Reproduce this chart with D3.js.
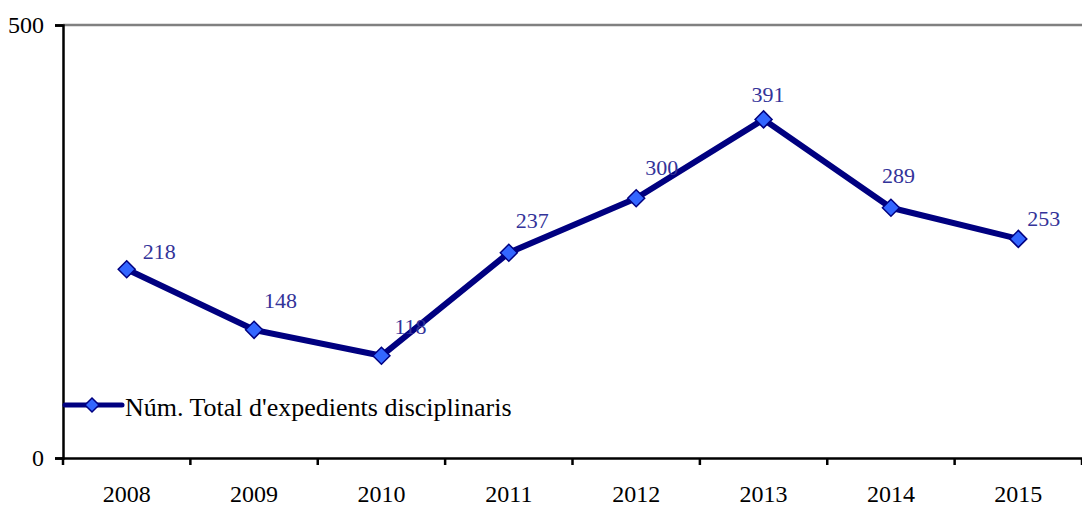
<!DOCTYPE html>
<html>
<head>
<meta charset="utf-8">
<script src="https://cdn.jsdelivr.net/npm/d3@7/dist/d3.min.js"></script>
<style>
  html, body { margin: 0; padding: 0; background: #fff; }
  svg { display: block; }
  text { font-family: "Liberation Serif", "DejaVu Serif", serif; }
</style>
</head>
<body>
<svg id="chart" width="1082" height="506"></svg>
<script>
// Disciplinary case totals per year
const years = ["2008", "2009", "2010", "2011", "2012", "2013", "2014", "2015"];
const totals = [218, 148, 118, 237, 300, 391, 289, 253];
const yTicks = [0, 500];
const seriesName = "Núm. Total d'expedients disciplinaris";

// value-label placement relative to each marker (text left edge / baseline)
const labelDx = [16, 10, 13, 7, 9, -12, -9, 9];
const labelDy = [-10, -22, -22, -25, -23, -17, -25, -13];

const svg = d3.select("#chart");
const plotLeft = 63, plotRight = 1082, plotTop = 25, plotBottom = 458;

const x = d3.scaleBand().domain(years).range([plotLeft, plotRight]);
const y = d3.scaleLinear().domain([0, 500]).range([plotBottom, plotTop]);

const lineColor = "#000080";
const markerFill = "#3366FF";
const labelColor = "#333399";
const serif = '"Liberation Serif", serif';

// top gridline
svg.append("line")
  .attr("x1", plotLeft).attr("x2", plotRight)
  .attr("y1", y(500)).attr("y2", y(500))
  .attr("stroke", "#808080").attr("stroke-width", 2.5);

// y axis
const yAxis = svg.append("g")
  .attr("transform", `translate(${plotLeft},0)`)
  .call(d3.axisLeft(y).tickValues(yTicks).tickSize(8).tickPadding(11));
yAxis.select(".domain").attr("stroke", "#000").attr("stroke-width", 2.5);
yAxis.selectAll(".tick line").attr("stroke", "#000").attr("stroke-width", 2.5);
yAxis.selectAll(".tick text")
  .attr("font-size", 24).attr("fill", "#000")
  .style("font-family", serif);

// x axis with ticks on category boundaries
const xAxis = svg.append("g")
  .attr("transform", `translate(0,${plotBottom})`)
  .call(d3.axisBottom(x).tickSize(0).tickPadding(27));
xAxis.select(".domain").attr("stroke", "#000").attr("stroke-width", 2.5);
xAxis.selectAll(".tick text")
  .attr("font-size", 24).attr("fill", "#000")
  .style("font-family", serif);
const bounds = years.map(d => x(d)).concat([x(years[years.length - 1]) + x.bandwidth()]);
xAxis.selectAll("line.bound")
  .data(bounds)
  .join("line")
  .attr("class", "bound")
  .attr("x1", d => d).attr("x2", d => d)
  .attr("y1", 0).attr("y2", 7)
  .attr("stroke", "#000").attr("stroke-width", 2.5);

const cx = d => x(d) + x.bandwidth() / 2;
const pts = years.map((d, i) => [cx(d), y(totals[i])]);

// series line
svg.append("path")
  .attr("d", d3.line()(pts))
  .attr("fill", "none")
  .attr("stroke", lineColor)
  .attr("stroke-width", 6)
  .attr("stroke-linejoin", "round");

// value labels
svg.selectAll("text.val")
  .data(totals)
  .join("text")
  .attr("class", "val")
  .attr("x", (d, i) => pts[i][0] + labelDx[i])
  .attr("y", (d, i) => pts[i][1] + labelDy[i])
  .attr("font-size", 22)
  .attr("fill", labelColor)
  .text(d => d);

// diamond markers
const diamond = s => `M0,${-s}L${s},0L0,${s}L${-s},0Z`;
svg.selectAll("path.mk")
  .data(pts)
  .join("path")
  .attr("class", "mk")
  .attr("transform", d => `translate(${d[0]},${d[1]})`)
  .attr("d", diamond(8.5))
  .attr("fill", markerFill)
  .attr("stroke", lineColor)
  .attr("stroke-width", 1.5);

// legend
const lg = svg.append("g").attr("transform", "translate(65,405)");
lg.append("line")
  .attr("x1", 0).attr("x2", 57).attr("y1", 0).attr("y2", 0)
  .attr("stroke", lineColor).attr("stroke-width", 5)
  .attr("stroke-linecap", "round");
lg.append("path")
  .attr("transform", "translate(27,0)")
  .attr("d", diamond(7))
  .attr("fill", markerFill)
  .attr("stroke", lineColor)
  .attr("stroke-width", 1.5);
lg.append("text")
  .attr("x", 60).attr("y", 11)
  .attr("font-size", 26)
  .attr("fill", "#000")
  .text(seriesName);
</script>
</body>
</html>
